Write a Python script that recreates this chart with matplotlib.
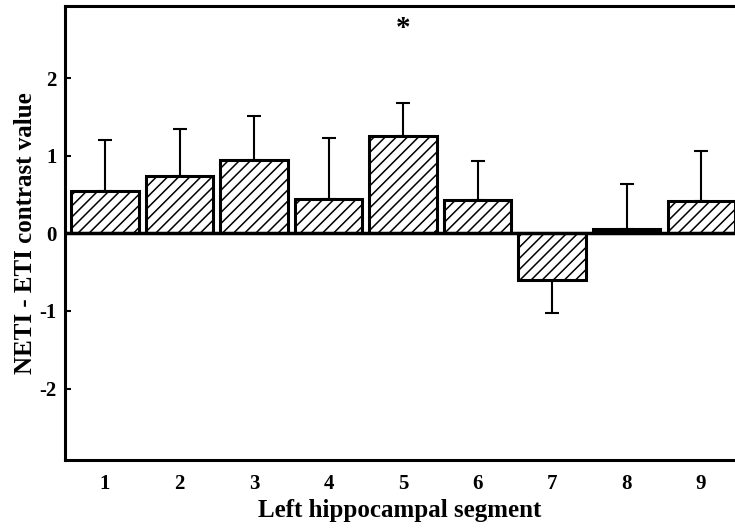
import matplotlib
matplotlib.use("Agg")
import matplotlib.pyplot as plt

segments = [1, 2, 3, 4, 5, 6, 7, 8, 9]
values = [0.55, 0.74, 0.94, 0.44, 1.25, 0.43, -0.60, 0.06, 0.42]
errors = [0.65, 0.60, 0.57, 0.79, 0.43, 0.50, 0.43, 0.58, 0.64]
yticks = [-2, -1, 0, 1, 2]
sig_segment = 5
sig_y = 2.64

plt.rcParams['font.family'] = ['Liberation Serif', 'DejaVu Serif']
plt.rcParams['font.weight'] = 'bold'
plt.rcParams['axes.unicode_minus'] = False
plt.rcParams['hatch.linewidth'] = 1.1

fig = plt.figure(figsize=(7.35, 5.29), dpi=100)
ax = fig.add_axes([65/735, 1 - 460/529, 1 - 65/735, (460 - 6)/529])

bars = ax.bar(segments, values, width=0.9, color='white', edgecolor='black',
              linewidth=2.2, hatch='///', zorder=2)
# bar 8 looks solid (very small value)
bars[7].set_facecolor('black')

lower = [e if v < 0 else 0 for v, e in zip(values, errors)]
upper = [e if v >= 0 else 0 for v, e in zip(values, errors)]
ax.errorbar(segments, values, yerr=[lower, upper], fmt='none', ecolor='black',
            elinewidth=1.5, capsize=5, capthick=1.5, zorder=1)

ax.axhline(0, color='black', linewidth=2.5, zorder=3)

ax.text(sig_segment, sig_y, '*', ha='center', va='center', fontsize=21,
        fontweight='bold')

ax.set_xlim(0.463, 9.456)
ax.set_ylim(-2.92, 2.93)
ax.set_xticks(segments)
ax.set_yticks(yticks)
ax.set_yticklabels([str(t) for t in yticks])
ax.tick_params(axis='x', length=0, pad=10, labelsize=15)
ax.tick_params(axis='y', direction='in', length=4.5, width=1.5, pad=6, labelsize=15)
for lab in ax.get_xticklabels() + ax.get_yticklabels():
    lab.set_fontweight('bold')

for s in ['left', 'top', 'bottom']:
    ax.spines[s].set_linewidth(2.2)
ax.spines['right'].set_visible(False)

ax.set_xlabel('Left hippocampal segment', fontsize=18, fontweight='bold', labelpad=4)
ax.set_ylabel('NETI - ETI contrast value', fontsize=18, fontweight='bold', labelpad=2)

fig.savefig('out.png', dpi=100)
